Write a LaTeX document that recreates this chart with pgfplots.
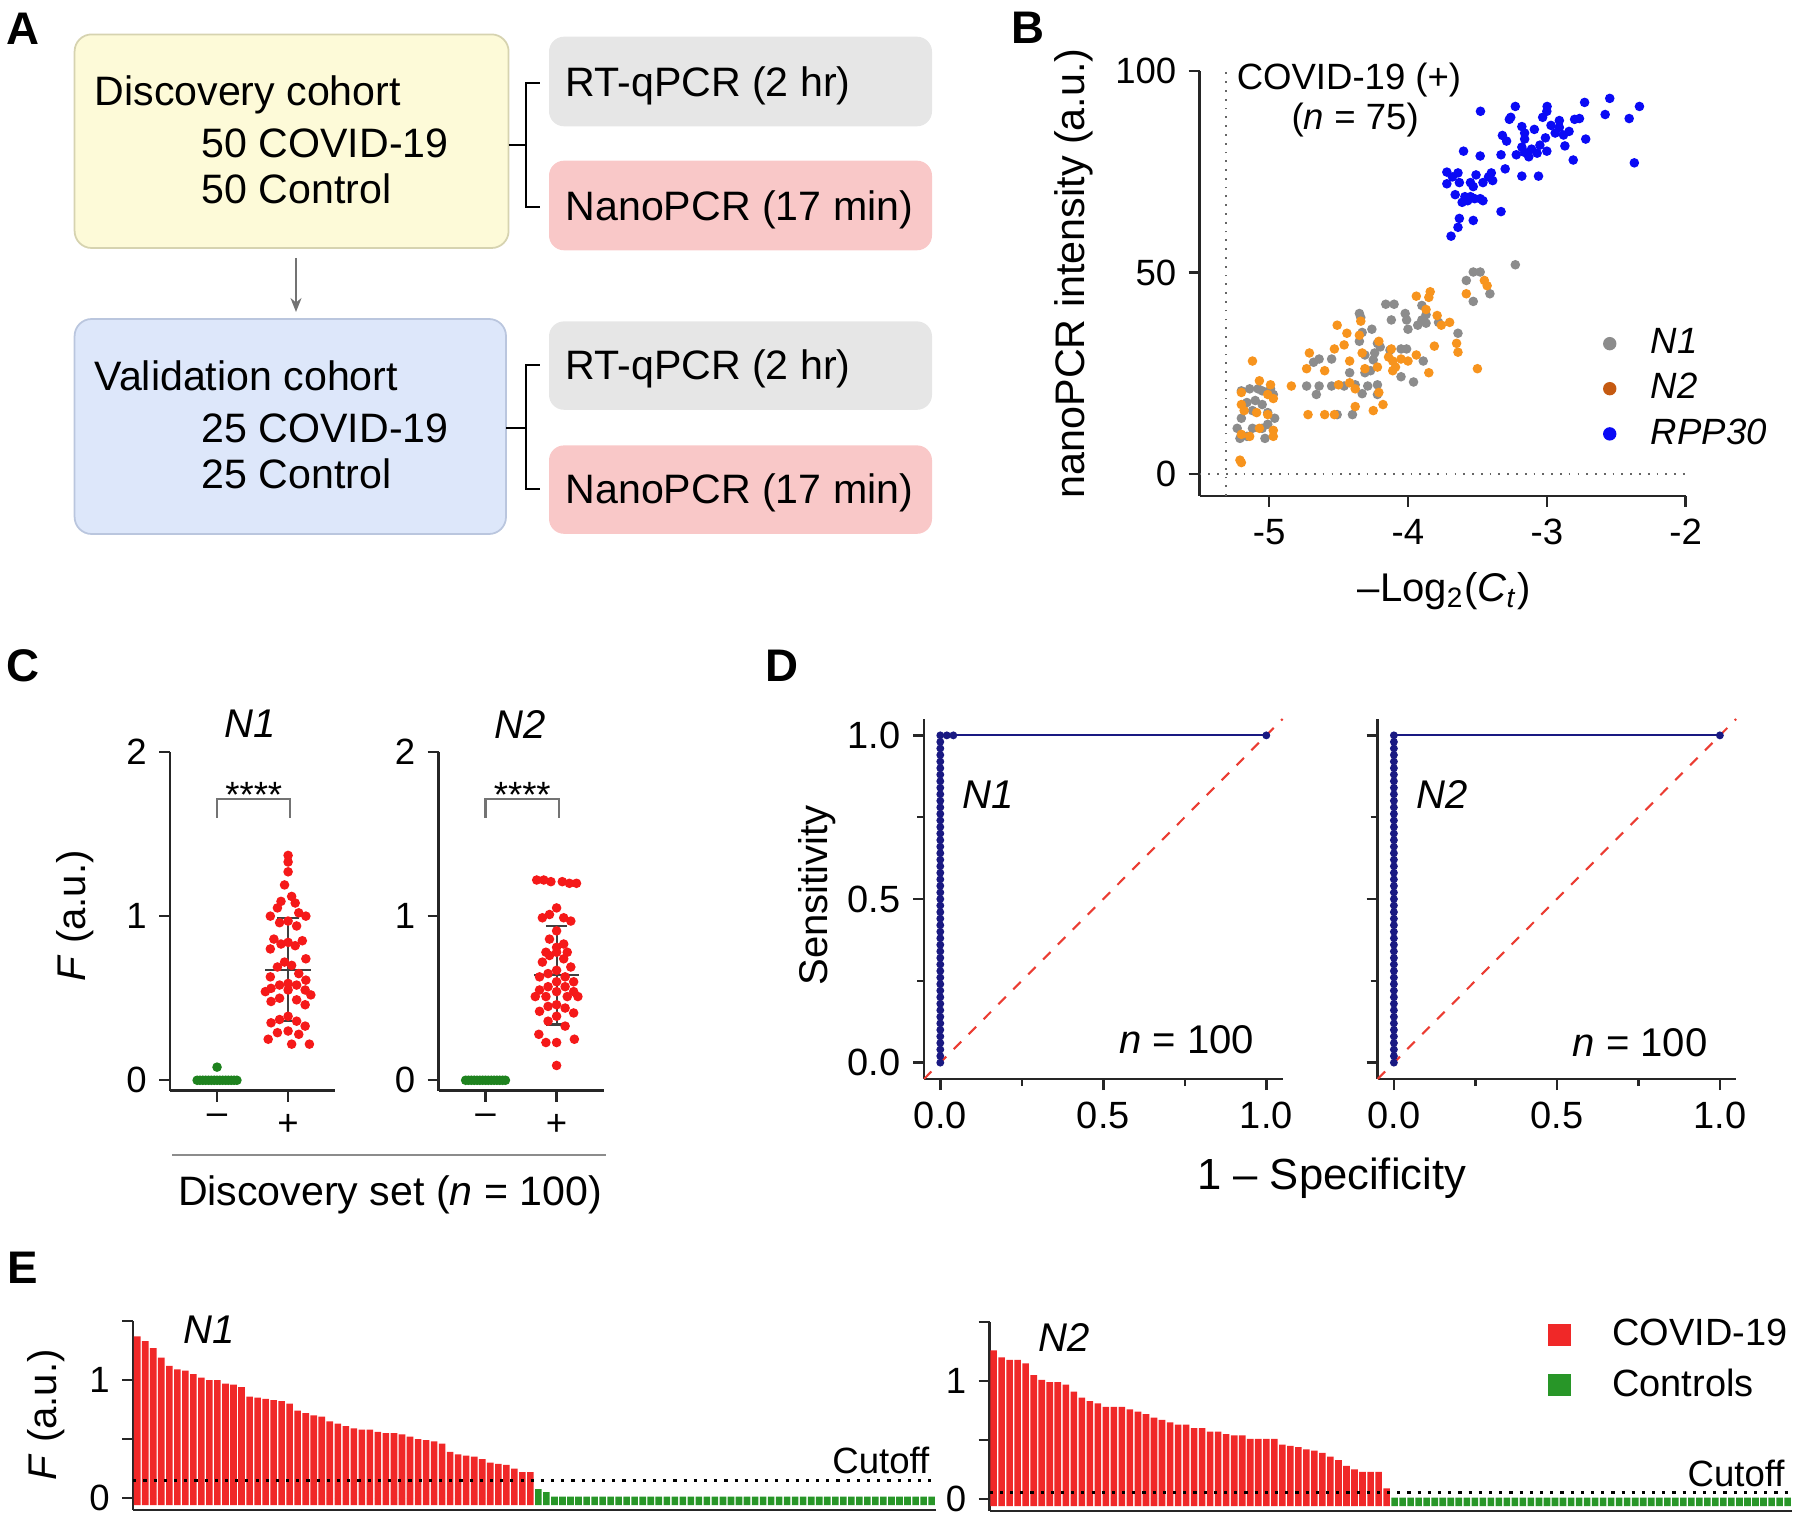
\documentclass[border=0pt]{standalone}
\usepackage{fontspec}
\setmainfont{Liberation Sans}
\usepackage{pgfplots}
\usepackage{pgfplotstable}
\pgfplotsset{compat=1.18}
\usetikzlibrary{arrows.meta}

\definecolor{cYellowF}{RGB}{253,250,216}
\definecolor{cYellowD}{RGB}{214,211,176}
\definecolor{cBlueF}{RGB}{221,231,250}
\definecolor{cBlueD}{RGB}{186,198,222}
\definecolor{cGrayBox}{RGB}{230,230,230}
\definecolor{cPink}{RGB}{249,200,200}
\definecolor{cN1}{RGB}{140,140,140}
\definecolor{cN2}{RGB}{247,148,30}
\definecolor{cN2leg}{RGB}{197,90,17}
\definecolor{cRPP}{RGB}{10,10,245}
\definecolor{cRed}{RGB}{245,25,25}
\definecolor{cGreen}{RGB}{30,130,30}
\definecolor{cNavy}{RGB}{25,25,130}
\definecolor{cDiag}{RGB}{235,60,50}
\definecolor{cBarRed}{RGB}{240,40,40}
\definecolor{cBarGreen}{RGB}{40,150,40}

\newcommand\fA{\fontsize{11.7}{14}\selectfont}
\newcommand\fT{\fontsize{10.4}{12}\selectfont}
\newcommand\fD{\fontsize{10.8}{13}\selectfont}
\newcommand\fL{\fontsize{11.4}{13.5}\selectfont}
\newcommand\fLB{\fontsize{11.75}{14}\selectfont}
\newcommand\fS{\fontsize{12.4}{14.5}\selectfont}
\newcommand\fP{\fontsize{13}{15}\selectfont\bfseries}

\pgfplotsset{
  gp/.style={scale only axis, anchor=south west,
    axis x line*=bottom, axis y line*=left, tick align=outside,
    axis line style={line width=0.7pt, black!85},
    every tick/.style={line width=0.7pt, black!85},
    major tick length=1.1mm, minor tick length=0.7mm,
    tick label style={font=\fT},
    label style={font=\fL},
    /pgf/number format/assume math mode=true,
    clip=false},
}

% Panel E data
\pgfplotstableread[row sep=\\]{i F\\ 1 1.37\\ 2 1.33\\ 3 1.27\\ 4 1.19\\ 5 1.12\\ 6 1.09\\ 7 1.08\\ 8 1.05\\ 9 1.02\\ 10 1.00\\ 11 1.00\\ 12 0.97\\ 13 0.96\\ 14 0.94\\ 15 0.86\\ 16 0.85\\ 17 0.84\\ 18 0.83\\ 19 0.82\\ 20 0.80\\ 21 0.74\\ 22 0.72\\ 23 0.70\\ 24 0.69\\ 25 0.65\\ 26 0.63\\ 27 0.61\\ 28 0.59\\ 29 0.58\\ 30 0.58\\ 31 0.56\\ 32 0.55\\ 33 0.55\\ 34 0.54\\ 35 0.52\\ 36 0.50\\ 37 0.49\\ 38 0.48\\ 39 0.46\\ 40 0.39\\ 41 0.37\\ 42 0.36\\ 43 0.35\\ 44 0.33\\ 45 0.30\\ 46 0.29\\ 47 0.28\\ 48 0.25\\ 49 0.22\\ 50 0.22\\}\EAr
\pgfplotstableread[row sep=\\]{i F\\ 51 0.075\\ 52 0.05\\ 53 0.012\\ 54 0.012\\ 55 0.012\\ 56 0.012\\ 57 0.012\\ 58 0.012\\ 59 0.012\\ 60 0.012\\ 61 0.012\\ 62 0.012\\ 63 0.012\\ 64 0.012\\ 65 0.012\\ 66 0.012\\ 67 0.012\\ 68 0.012\\ 69 0.012\\ 70 0.012\\ 71 0.012\\ 72 0.012\\ 73 0.012\\ 74 0.012\\ 75 0.012\\ 76 0.012\\ 77 0.012\\ 78 0.012\\ 79 0.012\\ 80 0.012\\ 81 0.012\\ 82 0.012\\ 83 0.012\\ 84 0.012\\ 85 0.012\\ 86 0.012\\ 87 0.012\\ 88 0.012\\ 89 0.012\\ 90 0.012\\ 91 0.012\\ 92 0.012\\ 93 0.012\\ 94 0.012\\ 95 0.012\\ 96 0.012\\ 97 0.012\\ 98 0.012\\ 99 0.012\\ 100 0.012\\}\EAg
\pgfplotstableread[row sep=\\]{i F\\ 1 1.26\\ 2 1.20\\ 3 1.18\\ 4 1.18\\ 5 1.15\\ 6 1.05\\ 7 1.01\\ 8 0.99\\ 9 0.99\\ 10 0.97\\ 11 0.91\\ 12 0.86\\ 13 0.83\\ 14 0.81\\ 15 0.78\\ 16 0.78\\ 17 0.78\\ 18 0.76\\ 19 0.74\\ 20 0.72\\ 21 0.69\\ 22 0.67\\ 23 0.65\\ 24 0.63\\ 25 0.63\\ 26 0.60\\ 27 0.60\\ 28 0.57\\ 29 0.57\\ 30 0.55\\ 31 0.54\\ 32 0.54\\ 33 0.51\\ 34 0.51\\ 35 0.51\\ 36 0.51\\ 37 0.46\\ 38 0.45\\ 39 0.44\\ 40 0.42\\ 41 0.41\\ 42 0.39\\ 43 0.36\\ 44 0.33\\ 45 0.28\\ 46 0.25\\ 47 0.23\\ 48 0.23\\ 49 0.23\\ 50 0.09\\}\EBr
\pgfplotstableread[row sep=\\]{i F\\ 51 0.012\\ 52 0.012\\ 53 0.012\\ 54 0.012\\ 55 0.012\\ 56 0.012\\ 57 0.012\\ 58 0.012\\ 59 0.012\\ 60 0.012\\ 61 0.012\\ 62 0.012\\ 63 0.012\\ 64 0.012\\ 65 0.012\\ 66 0.012\\ 67 0.012\\ 68 0.012\\ 69 0.012\\ 70 0.012\\ 71 0.012\\ 72 0.012\\ 73 0.012\\ 74 0.012\\ 75 0.012\\ 76 0.012\\ 77 0.012\\ 78 0.012\\ 79 0.012\\ 80 0.012\\ 81 0.012\\ 82 0.012\\ 83 0.012\\ 84 0.012\\ 85 0.012\\ 86 0.012\\ 87 0.012\\ 88 0.012\\ 89 0.012\\ 90 0.012\\ 91 0.012\\ 92 0.012\\ 93 0.012\\ 94 0.012\\ 95 0.012\\ 96 0.012\\ 97 0.012\\ 98 0.012\\ 99 0.012\\ 100 0.012\\}\EBg

\begin{document}
\begin{tikzpicture}
\begin{scope}[x=0.1mm,y=-0.1mm]
\path[use as bounding box] (0,0) rectangle (1800,1521);
% ---------- Panel A ----------
\filldraw[fill=cYellowF, draw=cYellowD, line width=0.5pt, rounded corners=1.7mm] (74.6,34.4) rectangle (508.6,248);
\filldraw[fill=cBlueF, draw=cBlueD, line width=0.5pt, rounded corners=1.7mm] (74.6,319) rectangle (506,534);
\fill[cGrayBox, rounded corners=1.5mm] (549,36.7) rectangle (932,126.3);
\fill[cPink, rounded corners=1.5mm] (549,160.7) rectangle (932,250.3);
\fill[cGrayBox, rounded corners=1.5mm] (549,321.4) rectangle (932,409.8);
\fill[cPink, rounded corners=1.5mm] (549,445.4) rectangle (932,533.8);
\draw[line width=0.6pt] (539.6,82.7) -- (525.8,82.7) -- (525.8,206.6) -- (539.6,206.6);
\draw[line width=0.6pt] (508.6,144.6) -- (525.8,144.6);
\draw[line width=0.6pt] (539.6,365) -- (525.8,365) -- (525.8,489) -- (539.6,489);
\draw[line width=0.6pt] (506,428) -- (525.8,428);
\draw[-{Stealth[length=1.4mm,width=1.1mm]}, black!55, line width=0.5pt] (296,258) -- (296,312);
\node[anchor=base west, font=\fA, inner sep=0pt] at (94,105.6) {Discovery cohort};
\node[anchor=base west, font=\fA, inner sep=0pt] at (201,158) {50 COVID-19};
\node[anchor=base west, font=\fA, inner sep=0pt] at (201,204) {50 Control};
\node[anchor=base west, font=\fA, inner sep=0pt] at (565,97) {RT-qPCR (2 hr)};
\node[anchor=base west, font=\fA, inner sep=0pt] at (565,221) {NanoPCR (17 min)};
\node[anchor=base west, font=\fA, inner sep=0pt] at (94,391) {Validation cohort};
\node[anchor=base west, font=\fA, inner sep=0pt] at (201,442.6) {25 COVID-19};
\node[anchor=base west, font=\fA, inner sep=0pt] at (201,488.5) {25 Control};
\node[anchor=base west, font=\fA, inner sep=0pt] at (565,379.4) {RT-qPCR (2 hr)};
\node[anchor=base west, font=\fA, inner sep=0pt] at (565,503.4) {NanoPCR (17 min)};
% ---------- panel letters ----------
\node[font=\fP] at (23,29) {A};
\node[font=\fP] at (1027.5,27.6) {B};
\node[font=\fP] at (23,666) {C};
\node[font=\fP] at (781.8,666) {D};
\node[font=\fP] at (23,1267.4) {E};
% ---------- shared labels ----------
\draw[black!45, line width=0.6pt] (172,1155) -- (606,1155);
\node[font=\fA] at (390,1195) {Discovery set (\textit{n} = 100)};
\node[font=\fS] at (1331.7,1178) {1 \textendash\ Specificity};
\end{scope}

% ---------- Panel B ----------
\begin{axis}[gp, at={(119.97mm,-49.6mm)}, width=48.6mm, height=42.5mm,
  xmin=-5.5, xmax=-2, ymin=-5.5, ymax=100,
  xtick={-5,-4,-3,-2}, ytick={0,50,100},
  xlabel={\textendash Log\textsubscript{2}(\textit{C}\textsubscript{\textit{t}})},
  ylabel={nanoPCR intensity (a.u.)},
  xlabel style={at={(rel axis cs:0.503,-0.2235)}, anchor=center},
  ylabel style={at={(rel axis cs:-0.26,0.524)}, anchor=center, font=\fLB},
  legend style={at={(0.83,0.40)}, anchor=north west, draw=none, fill=none,
    font=\fT\itshape, inner sep=0pt, row sep=3.1pt, column sep=3.35mm,
    nodes={inner sep=0.5pt}},
  legend cell align=left]
\addplot[black!60, dotted, line width=0.5pt, forget plot] coordinates {(-5.31,-5.5) (-5.31,100)};
\addplot[black!60, dotted, line width=0.5pt, forget plot] coordinates {(-5.5,0) (-2,0)};
\addplot[only marks, mark=*, mark size=1.15pt, color=cN1, forget plot] coordinates {
(-3.227,51.9)(-3.58,48)(-3.53,50.1)(-3.48,50.1)(-3.53,42.8)(-3.41,44.7)(-4.16,42.1)(-4.10,42.1)(-3.90,41.8)(-4.35,39.8)(-4.34,38.8)(-4.02,39.8)(-4.12,38.2)(-4.01,38.2)(-3.87,39.5)(-3.90,38.2)(-4.26,35.9)(-4.33,35.1)(-4.00,35.9)(-3.93,36.9)(-3.87,37.4)(-3.78,37.6)(-3.64,34.9)(-4.35,32.9)(-4.22,32.4)(-4.20,31.5)(-4.24,30)(-4.31,29.5)(-4.05,31)(-4.01,31)(-4.13,30.7)(-4.64,28.5)(-4.55,28.5)(-4.68,27.7)(-4.42,25.1)(-4.25,28.3)(-4.27,25.6)(-3.89,28)(-3.96,22.8)(-4.05,24.1)(-4.29,21.8)(-4.31,25.1)(-4.73,21.8)(-4.64,21.8)(-4.55,21.8)(-4.46,21.8)(-4.38,22.1)(-4.22,22.1)(-4.66,19.7)(-4.33,19.9)(-4.22,19.7)(-4.51,14.7)(-4.40,14.7)(-5.20,20.6)(-5.14,21.1)(-5.08,21.1)(-5.05,20.6)(-4.99,21.1)(-4.97,19.7)(-5.16,17.7)(-5.10,18.2)(-5.05,17.2)(-5.20,13.8)(-5.12,15.7)(-5.01,15.2)(-4.96,13.8)(-5.23,11.3)(-5.12,11.3)(-5.05,11.3)(-5.01,12.3)(-5.21,8.8)(-5.16,9.3)(-5.03,8.8)};
\addplot[only marks, mark=*, mark size=1.15pt, color=cN2, forget plot] coordinates {
(-3.45,48)(-3.43,46.7)(-3.58,44.7)(-3.84,45.2)(-3.94,44.1)(-3.85,43.8)(-3.87,40.8)(-3.79,39.3)(-3.70,37.6)(-3.76,36.9)(-4.51,36.9)(-4.34,37.9)(-4.44,34.9)(-4.35,34.4)(-4.21,32.9)(-3.81,31.7)(-3.65,32.4)(-3.64,30.2)(-4.71,30)(-4.53,31)(-4.46,32)(-4.12,31)(-4.14,29)(-4.33,30)(-4.42,28)(-4.22,26.5)(-4.11,28)(-4.00,28)(-4.73,26.1)(-4.60,25.6)(-4.31,26.1)(-4.11,25.6)(-4.09,26.5)(-3.85,25.1)(-3.50,26.1)(-4.84,21.8)(-4.50,22.1)(-4.42,22.6)(-4.38,21.1)(-4.21,20.2)(-4.18,17.2)(-4.25,15.7)(-4.60,14.7)(-4.53,14.7)(-5.20,20.2)(-5.12,28)(-5.07,23.1)(-4.99,22.1)(-5.01,19.7)(-5.20,17.2)(-5.18,15.7)(-5.09,15.2)(-4.97,18.7)(-5.01,14.7)(-5.20,9.8)(-5.14,9.3)(-4.97,9.3)(-4.97,10.8)(-5.07,11.3)(-5.21,3.4)(-5.20,2.8)(-4.72,14.7)(-4.38,16.7)(-3.94,29.5)(-4.05,28.5)};
\addplot[only marks, mark=*, mark size=1.15pt, color=cRPP, forget plot] coordinates {
(-3.478,90.0)(-3.227,91.2)(-2.998,91.2)(-3.0,90)(-2.728,92.2)(-2.547,93.2)(-2.333,91.2)(-2.58,89.2)(-2.407,88.2)(-2.37,77.2)(-2.80,88)(-2.765,88.2)(-3.26,88.5)(-3.18,86.2)(-3.03,88.5)(-2.97,86.5)(-2.91,86)(-3.09,85.5)(-3.16,84.6)(-3.32,84)(-3.29,82.6)(-3.16,83.1)(-3.01,83.4)(-2.88,84.1)(-2.84,85)(-2.72,83.1)(-2.87,81.4)(-3.0,80.1)(-3.11,80.6)(-3.16,79.8)(-3.18,81.1)(-3.22,79.2)(-3.13,78.7)(-3.07,79.6)(-3.33,79.2)(-3.48,78.9)(-3.60,80.1)(-2.81,77.9)(-3.30,75.7)(-3.18,73.9)(-3.06,73.9)(-3.42,73.7)(-3.39,72.8)(-3.46,72.3)(-3.51,74.2)(-3.72,74.9)(-3.68,73.7)(-3.64,74.7)(-3.72,72)(-3.63,72.3)(-3.55,72.3)(-3.53,71.3)(-3.66,69.3)(-3.59,68.8)(-3.55,68.8)(-3.52,68.3)(-3.48,68.3)(-3.46,67.8)(-3.57,67.8)(-3.61,67.4)(-3.33,65.1)(-3.63,63.4)(-3.53,62.9)(-3.64,61.2)(-3.69,59)(-3.27,88)(-2.94,84.6)(-2.91,87.7)(-3.05,81.6)(-3.40,74.7)};
\addlegendimage{only marks, mark=*, mark size=1.7pt, color=cN1}
\addlegendentry{N1}
\addlegendimage{only marks, mark=*, mark size=1.7pt, color=cN2leg}
\addlegendentry{N2}
\addlegendimage{only marks, mark=*, mark size=1.7pt, color=cRPP}
\addlegendentry{RPP30}
\node[font=\fT] at (axis cs:-4.425,97.7) {COVID-19 (+)};
\node[font=\fT] at (axis cs:-4.38,87.8) {(\textit{n} = 75)};
\end{axis}

% ---------- Panel C (N1) ----------
\begin{axis}[gp, at={(17mm,-109.06mm)}, width=16.5mm, height=33.86mm,
  xmin=0.338, xmax=2.66, ymin=-0.063, ymax=2,
  xtick={1,2}, xticklabels={\textendash,+}, ytick={0,1,2},
  ylabel={\textit{F} (a.u.)},
  ylabel style={at={(rel axis cs:-0.578,0.516)}, anchor=center},
  title={\textit{N1}}, title style={at={(rel axis cs:0.485,1.02)}, anchor=center, font=\fL}]
\addplot[only marks, mark=*, mark size=1.15pt, color=cGreen] coordinates {
(0.72,0)(0.76,0)(0.80,0)(0.84,0)(0.88,0)(0.92,0)(0.96,0)(1.00,0)(1.04,0)(1.08,0)(1.12,0)(1.16,0)(1.20,0)(1.24,0)(1.28,0)(1.0,0.08)};
\addplot[only marks, mark=*, mark size=1.15pt, color=cRed] coordinates {
(2,1.37)(2,1.33)(2,1.27)(1.95,1.19)(2.05,1.12)(1.9,1.09)(2.1,1.08)(1.85,1.05)(2.15,1.02)(1.75,1.00)(2.25,1.00)(2,0.97)(1.88,0.96)(2.12,0.94)(1.8,0.86)(2.2,0.85)(2,0.84)(1.9,0.83)(2.1,0.82)(1.75,0.80)(2.25,0.74)(1.95,0.72)(2.05,0.70)(1.85,0.69)(2.15,0.65)(1.75,0.63)(2.25,0.61)(2,0.59)(1.88,0.58)(2.12,0.58)(1.76,0.56)(2.24,0.55)(2,0.55)(1.68,0.54)(2.32,0.52)(1.88,0.50)(2.12,0.49)(1.76,0.48)(2.24,0.46)(2,0.39)(1.88,0.37)(2.12,0.36)(1.76,0.35)(2.24,0.33)(2,0.30)(1.85,0.29)(2.15,0.28)(1.72,0.25)(2.05,0.22)(2.3,0.22)};
\addplot[black!75, line width=0.6pt] coordinates {(1.68,0.674) (2.32,0.674)};
\addplot[black!75, line width=0.6pt] coordinates {(2,0.36) (2,0.99)};
\addplot[black!75, line width=0.6pt] coordinates {(1.85,0.99) (2.15,0.99)};
\addplot[black!75, line width=0.6pt] coordinates {(1.85,0.36) (2.15,0.36)};
\draw[black!55, line width=0.6pt] (axis cs:1,1.60) -- (axis cs:1,1.713) -- (axis cs:2.03,1.713) -- (axis cs:2.03,1.60);
\node[font=\fT, anchor=base] at (axis cs:1.517,1.66) {****};
\end{axis}

% ---------- Panel C (N2) ----------
\begin{axis}[gp, at={(43.85mm,-109.06mm)}, width=16.5mm, height=33.86mm,
  xmin=0.338, xmax=2.66, ymin=-0.063, ymax=2,
  xtick={1,2}, xticklabels={\textendash,+}, ytick={0,1,2},
  title={\textit{N2}}, title style={at={(rel axis cs:0.494,1.02)}, anchor=center, font=\fL}]
\addplot[only marks, mark=*, mark size=1.15pt, color=cGreen] coordinates {
(0.72,0)(0.76,0)(0.80,0)(0.84,0)(0.88,0)(0.92,0)(0.96,0)(1.00,0)(1.04,0)(1.08,0)(1.12,0)(1.16,0)(1.20,0)(1.24,0)(1.28,0)};
\addplot[only marks, mark=*, mark size=1.15pt, color=cRed] coordinates {
(1.72,1.22)(1.82,1.22)(1.92,1.21)(2.08,1.21)(2.18,1.20)(2.28,1.20)(2,1.05)(1.9,1.01)(2.1,0.99)(1.8,0.99)(2.2,0.97)(2,0.91)(1.9,0.86)(2.1,0.83)(2,0.81)(1.85,0.78)(2,0.78)(2.15,0.78)(1.9,0.76)(2.1,0.74)(1.8,0.72)(2.2,0.69)(2,0.67)(1.88,0.65)(2.12,0.63)(1.76,0.63)(2.24,0.60)(2,0.60)(1.88,0.57)(2.12,0.57)(1.76,0.55)(2.24,0.54)(2,0.54)(1.7,0.51)(1.85,0.51)(2.15,0.51)(2.3,0.51)(2,0.46)(1.88,0.45)(2.12,0.44)(1.76,0.42)(2.24,0.41)(2,0.39)(1.88,0.36)(2.12,0.33)(1.75,0.28)(2.25,0.25)(2,0.23)(1.85,0.23)(2.0,0.09)};
\addplot[black!75, line width=0.6pt] coordinates {(1.68,0.644) (2.32,0.644)};
\addplot[black!75, line width=0.6pt] coordinates {(2,0.34) (2,0.94)};
\addplot[black!75, line width=0.6pt] coordinates {(1.85,0.94) (2.15,0.94)};
\addplot[black!75, line width=0.6pt] coordinates {(1.85,0.34) (2.15,0.34)};
\draw[black!55, line width=0.6pt] (axis cs:1,1.60) -- (axis cs:1,1.713) -- (axis cs:2.03,1.713) -- (axis cs:2.03,1.60);
\node[font=\fT, anchor=base] at (axis cs:1.517,1.66) {****};
\end{axis}

% ---------- Panel D (N1) ----------
\begin{axis}[gp, at={(92.4mm,-107.9mm)}, width=35.86mm, height=36mm,
  xmin=-0.05, xmax=1.05, ymin=-0.05, ymax=1.05,
  xtick={0,0.5,1}, xticklabels={0.0,0.5,1.0}, ytick={0,0.5,1}, yticklabels={0.0,0.5,1.0},
  minor xtick={0.25,0.75}, minor ytick={0.25,0.75},
  tick label style={font=\fD},
  ylabel={Sensitivity},
  ylabel style={at={(rel axis cs:-0.297,0.51)}, anchor=center}]
\addplot[cDiag, dashed, line width=0.6pt] coordinates {(-0.05,-0.05) (1.05,1.05)};
\addplot[color=cNavy, line width=0.6pt, mark=*, mark size=0.8pt] coordinates {
(0,0)(0,0.02)(0,0.04)(0,0.06)(0,0.08)(0,0.1)(0,0.12)(0,0.14)(0,0.16)(0,0.18)(0,0.2)(0,0.22)(0,0.24)(0,0.26)(0,0.28)(0,0.3)(0,0.32)(0,0.34)(0,0.36)(0,0.38)(0,0.4)(0,0.42)(0,0.44)(0,0.46)(0,0.48)(0,0.5)(0,0.52)(0,0.54)(0,0.56)(0,0.58)(0,0.6)(0,0.62)(0,0.64)(0,0.66)(0,0.68)(0,0.7)(0,0.72)(0,0.74)(0,0.76)(0,0.78)(0,0.8)(0,0.82)(0,0.84)(0,0.86)(0,0.88)(0,0.9)(0,0.92)(0,0.94)(0,0.96)(0,0.98)(0,1)(0.02,1)(0.04,1)(1,1)};
\node[font=\fL, anchor=west] at (axis cs:0.03,0.818) {\textit{N1}};
\node[font=\fL, anchor=east] at (axis cs:1.0,0.07) {\textit{n} = 100};
\end{axis}

% ---------- Panel D (N2) ----------
\begin{axis}[gp, at={(137.76mm,-107.9mm)}, width=35.86mm, height=36mm,
  xmin=-0.05, xmax=1.05, ymin=-0.05, ymax=1.05,
  xtick={0,0.5,1}, xticklabels={0.0,0.5,1.0}, ytick={0,0.5,1}, yticklabels={,,},
  minor xtick={0.25,0.75}, minor ytick={0.25,0.75},
  tick label style={font=\fD}]
\addplot[cDiag, dashed, line width=0.6pt] coordinates {(-0.05,-0.05) (1.05,1.05)};
\addplot[color=cNavy, line width=0.6pt, mark=*, mark size=0.8pt] coordinates {
(0,0)(0,0.02)(0,0.04)(0,0.06)(0,0.08)(0,0.1)(0,0.12)(0,0.14)(0,0.16)(0,0.18)(0,0.2)(0,0.22)(0,0.24)(0,0.26)(0,0.28)(0,0.3)(0,0.32)(0,0.34)(0,0.36)(0,0.38)(0,0.4)(0,0.42)(0,0.44)(0,0.46)(0,0.48)(0,0.5)(0,0.52)(0,0.54)(0,0.56)(0,0.58)(0,0.6)(0,0.62)(0,0.64)(0,0.66)(0,0.68)(0,0.7)(0,0.72)(0,0.74)(0,0.76)(0,0.78)(0,0.8)(0,0.82)(0,0.84)(0,0.86)(0,0.88)(0,0.9)(0,0.92)(0,0.94)(0,0.96)(0,0.98)(0,1)(1,1)};
\node[font=\fL, anchor=west] at (axis cs:0.03,0.818) {\textit{N2}};
\node[font=\fL, anchor=east] at (axis cs:1.0,0.06) {\textit{n} = 100};
\end{axis}

% ---------- Panel E (N1) ----------
\begin{axis}[gp, at={(13.32mm,-150.98mm)}, width=80.24mm, height=18.88mm,
  xmin=0.5, xmax=100.5, ymin=-0.1, ymax=1.5,
  xtick=\empty, ytick={0,0.5,1,1.5}, yticklabels={0,,1,},
  ylabel={\textit{F} (a.u.)},
  ylabel style={at={(rel axis cs:-0.1087,0.503)}, anchor=center}]
\addplot[ybar, bar width=0.82, bar shift=0pt, fill=cBarRed, draw=none] table[x=i, y=F] {\EAr};
\addplot[ybar, bar width=0.82, bar shift=0pt, fill=cBarRed, draw=none] table[x=i, y expr=-0.06] {\EAr};
\addplot[ybar, bar width=0.82, bar shift=0pt, fill=cBarGreen, draw=none] table[x=i, y=F] {\EAg};
\addplot[ybar, bar width=0.82, bar shift=0pt, fill=cBarGreen, draw=none] table[x=i, y expr=-0.06] {\EAg};
\addplot[black, dotted, line width=0.9pt] coordinates {(0.5,0.15) (100.5,0.15)};
\node[font=\fL] at (axis cs:9.95,1.43) {\textit{N1}};
\node[font=\fT, anchor=east, inner sep=0pt] at (axis cs:99.8,0.32) {Cutoff};
\end{axis}

% ---------- Panel E (N2) ----------
\begin{axis}[gp, at={(98.96mm,-151.08mm)}, width=80.2mm, height=18.88mm,
  xmin=0.5, xmax=100.5, ymin=-0.1, ymax=1.5,
  xtick=\empty, ytick={0,0.5,1,1.5}, yticklabels={0,,1,},
  legend style={at={(0.696,1.03)}, anchor=north west, draw=none, fill=none,
    font=\fD, inner sep=0pt, row sep=4.2pt, column sep=4mm, nodes={inner sep=0.5pt}},
  legend cell align=left]
\addplot[ybar, bar width=0.82, bar shift=0pt, fill=cBarRed, draw=none, forget plot] table[x=i, y=F] {\EBr};
\addplot[ybar, bar width=0.82, bar shift=0pt, fill=cBarRed, draw=none, forget plot] table[x=i, y expr=-0.06] {\EBr};
\addplot[ybar, bar width=0.82, bar shift=0pt, fill=cBarGreen, draw=none, forget plot] table[x=i, y=F] {\EBg};
\addplot[ybar, bar width=0.82, bar shift=0pt, fill=cBarGreen, draw=none, forget plot] table[x=i, y expr=-0.06] {\EBg};
\addplot[black, dotted, line width=0.9pt, forget plot] coordinates {(0.5,0.056) (100.5,0.056)};
\addlegendimage{legend image code/.code={\fill[cBarRed] (0,-1.03mm) rectangle (2.07mm,1.03mm);}}
\addlegendentry{COVID-19}
\addlegendimage{legend image code/.code={\fill[cBarGreen] (0,-1.03mm) rectangle (2.07mm,1.03mm);}}
\addlegendentry{Controls}
\node[font=\fL] at (axis cs:9.8,1.37) {\textit{N2}};
\node[font=\fT, anchor=east, inner sep=0pt] at (axis cs:99.7,0.22) {Cutoff};
\end{axis}
\end{tikzpicture}
\end{document}
